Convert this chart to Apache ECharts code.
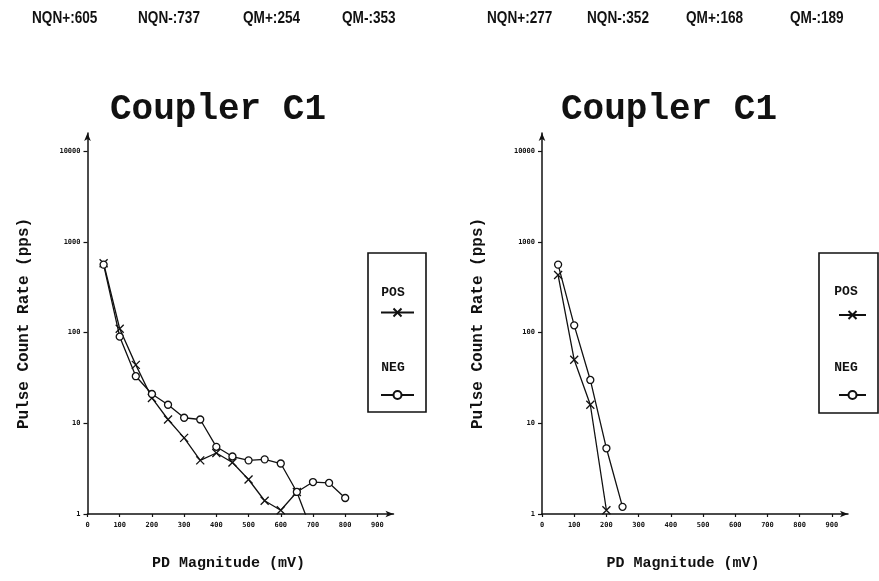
<!DOCTYPE html>
<html><head><meta charset="utf-8">
<script src="https://cdn.jsdelivr.net/npm/echarts@6/dist/echarts.min.js"></script>
<style>html,body{margin:0;padding:0;background:#fff}#c{width:879px;height:581px}</style>
</head><body><div id="c"></div>
<script>
// ---- data ----
const xTickValues = [0, 100, 200, 300, 400, 500, 600, 700, 800, 900];
const yTickValues = [1, 10, 100, 1000, 10000];
const leftPosX = [50, 100, 150, 200, 250, 300, 350, 400, 450, 500, 550, 600, 650, 700];
const leftPosY = [580, 110, 44, 19, 11, 6.9, 3.9, 4.7, 3.7, 2.4, 1.4, 1.1, 1.75, 0.6];
const leftNegX = [50, 100, 150, 200, 250, 300, 350, 400, 450, 500, 550, 600, 650, 700, 750, 800];
const leftNegY = [560, 90, 33, 21, 16, 11.5, 11, 5.5, 4.3, 3.9, 4.0, 3.6, 1.75, 2.25, 2.2, 1.5];
const rightPosX = [50, 100, 150, 200];
const rightPosY = [430, 50, 16, 1.1];
const rightNegX = [50, 100, 150, 200, 250];
const rightNegY = [560, 120, 30, 5.3, 1.2];
const headerLeft = ['NQN+:605', 'NQN-:737', 'QM+:254', 'QM-:353'];
const headerRight = ['NQN+:277', 'NQN-:352', 'QM+:168', 'QM-:189'];
const titleText = 'Coupler C1';
const xName = 'PD Magnitude (mV)';
const yName = 'Pulse Count Rate (pps)';
const legendNames = ['POS', 'NEG'];

// ---- layout / style ----
const INK = '#111';
const MONO = "'Liberation Mono','Courier New',monospace";
const zip = (xs, ys) => xs.map((x, i) => [x, ys[i]]);
const xSym = 'path://M0,0L10,10M10,0L0,10';
const isPow = v => Math.abs(Math.log10(v) - Math.round(Math.log10(v))) < 1e-6;

const grids = [
  {left: 87.5, top: 133, width: 306, height: 381},
  {left: 542, top: 133, width: 306, height: 381}
];

function xAxis(gi) {
  return {
    type: 'value', gridIndex: gi, min: 0, max: 950, interval: 100,
    splitLine: {show: false},
    axisLine: {show: true, onZero: false, symbol: ['none', 'arrow'], symbolSize: [5, 8], lineStyle: {color: INK, width: 1.5}},
    axisTick: {show: true, length: 3, customValues: xTickValues, lineStyle: {color: INK, width: 1.2}},
    axisLabel: {customValues: xTickValues, fontSize: 7, fontWeight: 'bold', color: INK, margin: 8, fontFamily: "'DejaVu Sans Mono',monospace"},
    name: xName, nameLocation: 'middle', nameGap: 42,
    nameTextStyle: {fontFamily: MONO, fontWeight: 'bold', fontSize: 15, color: INK, padding: [0, 24, 0, 0]}
  };
}
function yAxis(gi) {
  return {
    type: 'log', logBase: 10, gridIndex: gi, min: 1, max: 15800,
    splitLine: {show: false}, minorTick: {show: false}, minorSplitLine: {show: false},
    axisLine: {show: true, onZero: false, symbol: ['none', 'arrow'], symbolSize: [5, 8], lineStyle: {color: INK, width: 1.5}},
    axisTick: {show: true, length: 4, customValues: yTickValues, lineStyle: {color: INK, width: 1.2}},
    axisLabel: {customValues: yTickValues, formatter: v => isPow(v) ? String(Math.round(v)) : '', fontSize: 7, fontWeight: 'bold', color: INK, margin: 7, fontFamily: "'DejaVu Sans Mono',monospace"},
    name: yName, nameLocation: 'middle', nameGap: 56, nameRotate: 90,
    nameTextStyle: {fontFamily: MONO, fontWeight: 'bold', fontSize: 16, color: INK}
  };
}
function series(name, data, gi) {
  const isPos = name === 'POS';
  return {
    type: 'line', name, xAxisIndex: gi, yAxisIndex: gi, data,
    symbol: isPos ? xSym : 'circle', symbolSize: isPos ? 8 : 7,
    clip: true, animation: false,
    lineStyle: {color: INK, width: 1.3},
    itemStyle: {color: isPos ? INK : '#fff', borderColor: INK, borderWidth: 1.3},
    emphasis: {disabled: true}
  };
}
function legend(name, left, top, w) {
  return {
    data: [name], orient: 'vertical', left, top, padding: 0,
    itemWidth: w, itemHeight: 10, formatter: () => '', selectedMode: false,
    textStyle: {fontSize: 6}
  };
}
function legendBox(x, y, w, h, cx, t1, t2) {
  return [
    {type: 'rect', shape: {x, y, width: w, height: h}, style: {fill: 'none', stroke: INK, lineWidth: 1.6}},
    {type: 'text', x: cx, y: t1, style: {text: legendNames[0], font: "bold 13px " + MONO, fill: INK, textAlign: 'center', textVerticalAlign: 'middle'}},
    {type: 'text', x: cx, y: t2, style: {text: legendNames[1], font: "bold 13px " + MONO, fill: INK, textAlign: 'center', textVerticalAlign: 'middle'}}
  ];
}
const headerFont = "bold 17px 'Liberation Sans',Arial,sans-serif";
const headerLeftX = [32, 138, 243, 342];
const headerRightX = [487, 587, 686, 790];
function headerTexts(labels, xs) {
  return labels.map((t, i) => ({type: 'text', x: xs[i], y: 18, scaleX: 0.8, style: {text: t, font: headerFont, fill: INK, textVerticalAlign: 'middle'}}));
}

const chart = echarts.init(document.getElementById('c'), null, {renderer: 'canvas'});
chart.setOption({
  backgroundColor: '#fff',
  animation: false,
  title: [
    {text: titleText, left: 218, top: 92, padding: 0, textAlign: 'center', textStyle: {fontFamily: MONO, fontWeight: 'bold', fontSize: 36, color: INK}},
    {text: titleText, left: 669, top: 92, padding: 0, textAlign: 'center', textStyle: {fontFamily: MONO, fontWeight: 'bold', fontSize: 36, color: INK}}
  ],
  grid: grids.map(g => Object.assign({outerBoundsMode: 'none', containLabel: false}, g)),
  xAxis: [xAxis(0), xAxis(1)],
  yAxis: [yAxis(0), yAxis(1)],
  legend: [
    legend('POS', 380, 307.5, 33), legend('NEG', 380, 390, 33),
    legend('POS', 838, 310, 27), legend('NEG', 838, 390, 27)
  ],
  series: [
    series('POS', zip(leftPosX, leftPosY), 0),
    series('NEG', zip(leftNegX, leftNegY), 0),
    series('POS', zip(rightPosX, rightPosY), 1),
    series('NEG', zip(rightNegX, rightNegY), 1)
  ],
  graphic: [
    ...legendBox(368, 253, 58, 159, 393, 293, 368),
    ...legendBox(819, 253, 59, 160, 846, 292, 368),
    ...headerTexts(headerLeft, headerLeftX),
    ...headerTexts(headerRight, headerRightX)
  ]
});
</script></body></html>
